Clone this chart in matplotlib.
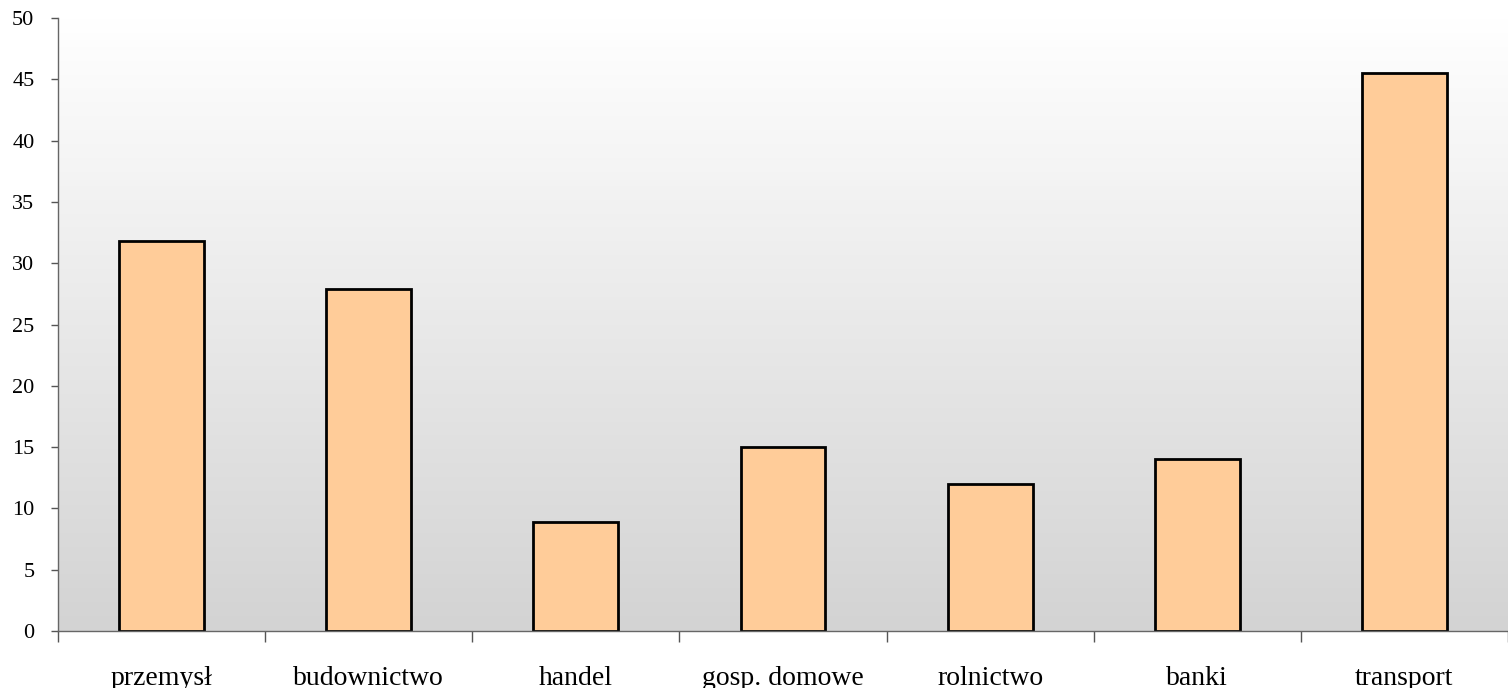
import numpy as np
import matplotlib.pyplot as plt
from matplotlib.ticker import FixedLocator
from matplotlib.colors import LinearSegmentedColormap

# data
categories = ['przemysł', 'budownictwo', 'handel', 'gosp. domowe',
              'rolnictwo', 'banki', 'transport']
values = [31.8, 27.9, 8.9, 15.0, 12.0, 14.0, 45.5]
y_ticks = [0, 5, 10, 15, 20, 25, 30, 35, 40, 45, 50]


def main():
    plt.rcParams['font.family'] = ['Liberation Serif', 'DejaVu Serif']

    fig = plt.figure(figsize=(15.08, 6.88), dpi=100)
    ax = fig.add_axes([58 / 1508, 57 / 688, 1450 / 1508, 613 / 688])

    n = len(categories)
    x = np.arange(n)

    # gradient background (white at top -> light grey at bottom)
    cmap = LinearSegmentedColormap.from_list('bg', ['#d3d3d3', '#ffffff'])
    grad = np.linspace(0, 1, 256).reshape(-1, 1)
    ax.imshow(grad, extent=[-0.5, n - 0.5, 0, 50], origin='lower',
              aspect='auto', cmap=cmap, zorder=0)

    ax.bar(x, values, width=0.41, color='#ffcc99', edgecolor='black',
           linewidth=2, zorder=2)

    ax.set_xlim(-0.5, n - 0.5)
    ax.set_ylim(0, 50)
    ax.set_yticks(y_ticks)

    ax.set_xticks(x)
    ax.set_xticklabels(categories, fontsize=20)
    ax.xaxis.set_minor_locator(FixedLocator(np.arange(-0.5, n, 1.0)))
    ax.tick_params(axis='x', which='major', length=0, pad=25)
    ax.tick_params(axis='x', which='minor', length=8, width=1, color='#555555')
    ax.tick_params(axis='y', length=5, width=1, color='#555555', pad=12,
                   labelsize=16)

    for s in ['top', 'right']:
        ax.spines[s].set_visible(False)
    for s in ['left', 'bottom']:
        ax.spines[s].set_color('#666666')
        ax.spines[s].set_linewidth(1)

    fig.savefig('out.png', dpi=100)
    plt.close(fig)


if __name__ == '__main__':
    main()
